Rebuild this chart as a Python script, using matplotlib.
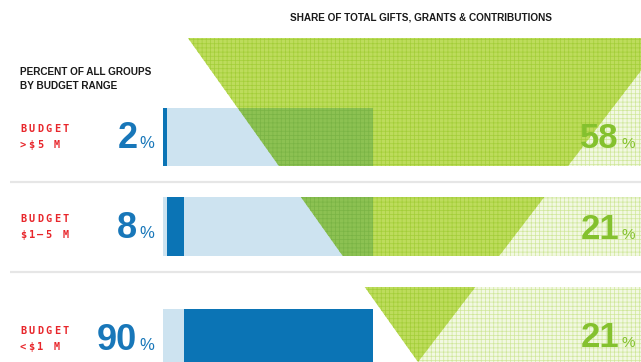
import matplotlib
matplotlib.use('Agg')
import matplotlib.pyplot as plt
import numpy as np
from matplotlib.patches import Polygon, Rectangle

# data
budget_ranges = ['>$5 M', '$1\u20135 M', '<$1 M']
group_pct = [2, 8, 90]          # percent of all groups (stacked blue bars)
gift_share = [58, 21, 21]       # share of total gifts, grants & contributions

# canvas layout (pixels)
W, H = 641, 362
BLUE_X0, BLUE_X1 = 163, 373
blue_rows = [(108, 166), (197, 256), (309, 370)]
green_rows = [(38, 166), (197, 256), (287, 370)]
funnel = [(188, 38), (666, 38), (418, 362)]
separators = [182, 272]

LIGHT_BLUE = '#cde3f0'
DARK_BLUE = '#0b74b5'
NUM_BLUE = '#1877b9'
LIME = '#bddc5c'
LIME_MESH = '#a3ce38'
PALE = '#f2f8e2'
PALE_MESH = '#cfe79a'
OVERLAP = '#8cc152'
OVERLAP_MESH = '#7ab445'
NUM_GREEN = '#84c12e'
RED = '#e8262b'

plt.rcParams['hatch.linewidth'] = 0.5
plt.rcParams['font.family'] = ['Liberation Sans', 'DejaVu Sans']

fig = plt.figure(figsize=(6.41, 3.62), dpi=100)
ax = fig.add_axes([0, 0, 1, 1])
ax.set_xlim(0, W)
ax.set_ylim(H, 0)
ax.axis('off')


def left_edge(y):
    (xa, ya), (xb, yb) = funnel[0], funnel[2]
    return xa + (xb - xa) * (y - ya) / (yb - ya)


# green bands: pale mesh to the right of the funnel's left edge, lime funnel inside
for y0, y1 in green_rows:
    pale = Polygon([(left_edge(y0), y0), (W + 5, y0), (W + 5, y1), (left_edge(y1), y1)],
                   facecolor=PALE, edgecolor=PALE_MESH, lw=0, hatch='++++')
    ax.add_patch(pale)
    band = Rectangle((0, y0), W + 5, y1 - y0, transform=ax.transData)
    tri = Polygon(funnel, facecolor=LIME, edgecolor=LIME_MESH, lw=0, hatch='++++')
    ax.add_patch(tri)
    tri.set_clip_path(band)

# light blue panels
centers = [(a + b) / 2 for a, b in blue_rows]
heights = [b - a for a, b in blue_rows]
ax.barh(centers, BLUE_X1 - BLUE_X0, height=heights, left=BLUE_X0, color=LIGHT_BLUE)

# funnel over the blue panels
for y0, y1 in blue_rows:
    panel = Rectangle((BLUE_X0, y0), BLUE_X1 - BLUE_X0, y1 - y0, transform=ax.transData)
    tri = Polygon(funnel, facecolor=OVERLAP, edgecolor=OVERLAP_MESH, lw=0, hatch='++++')
    ax.add_patch(tri)
    tri.set_clip_path(panel)

# stacked dark blue bars
scale = (BLUE_X1 - BLUE_X0) / 100.0
pct = np.array(group_pct, dtype=float)
lefts = BLUE_X0 + scale * (np.cumsum(pct) - pct)
ax.barh(centers, scale * pct, height=heights, left=lefts, color=DARK_BLUE)

# separators
for y in separators:
    ax.plot([10, W], [y, y], color='#e6e6e6', lw=1.6, solid_capstyle='butt')

# headings
ax.text(421, 20, 'SHARE OF TOTAL GIFTS, GRANTS & CONTRIBUTIONS', ha='center', va='baseline',
        fontsize=7.2, fontweight='bold', color='#1a1a1a')
ax.text(20, 75, 'PERCENT OF ALL GROUPS', ha='left', va='baseline',
        fontsize=7.2, fontweight='bold', color='#1a1a1a')
ax.text(20, 89, 'BY BUDGET RANGE', ha='left', va='baseline',
        fontsize=7.2, fontweight='bold', color='#1a1a1a')


def spaced(x, y, s, step=8.5):
    for i, ch in enumerate(s):
        ax.text(x + i * step, y, ch, ha='left', va='baseline', fontsize=7.4,
                fontweight='bold', color=RED, family='DejaVu Sans Mono')


label_base = [132, 222, 334]
num_base = [148, 238, 350]
share_base = [148, 239, 347]
for i, rng in enumerate(budget_ranges):
    spaced(20, label_base[i], 'BUDGET')
    spaced(20, label_base[i] + 16, rng)
    ax.text(137.5, num_base[i], str(group_pct[i]), ha='right', va='baseline',
            fontsize=26, fontweight='bold', color=NUM_BLUE)
    ax.text(139, num_base[i], '%', ha='left', va='baseline', fontsize=12, color=NUM_BLUE)
    ax.text(619, share_base[i], str(gift_share[i]), ha='right', va='baseline',
            fontsize=25, fontweight='bold', color=NUM_GREEN)
    ax.text(621, share_base[i], '%', ha='left', va='baseline', fontsize=11, color=NUM_GREEN)

fig.savefig('out.png', dpi=100)
